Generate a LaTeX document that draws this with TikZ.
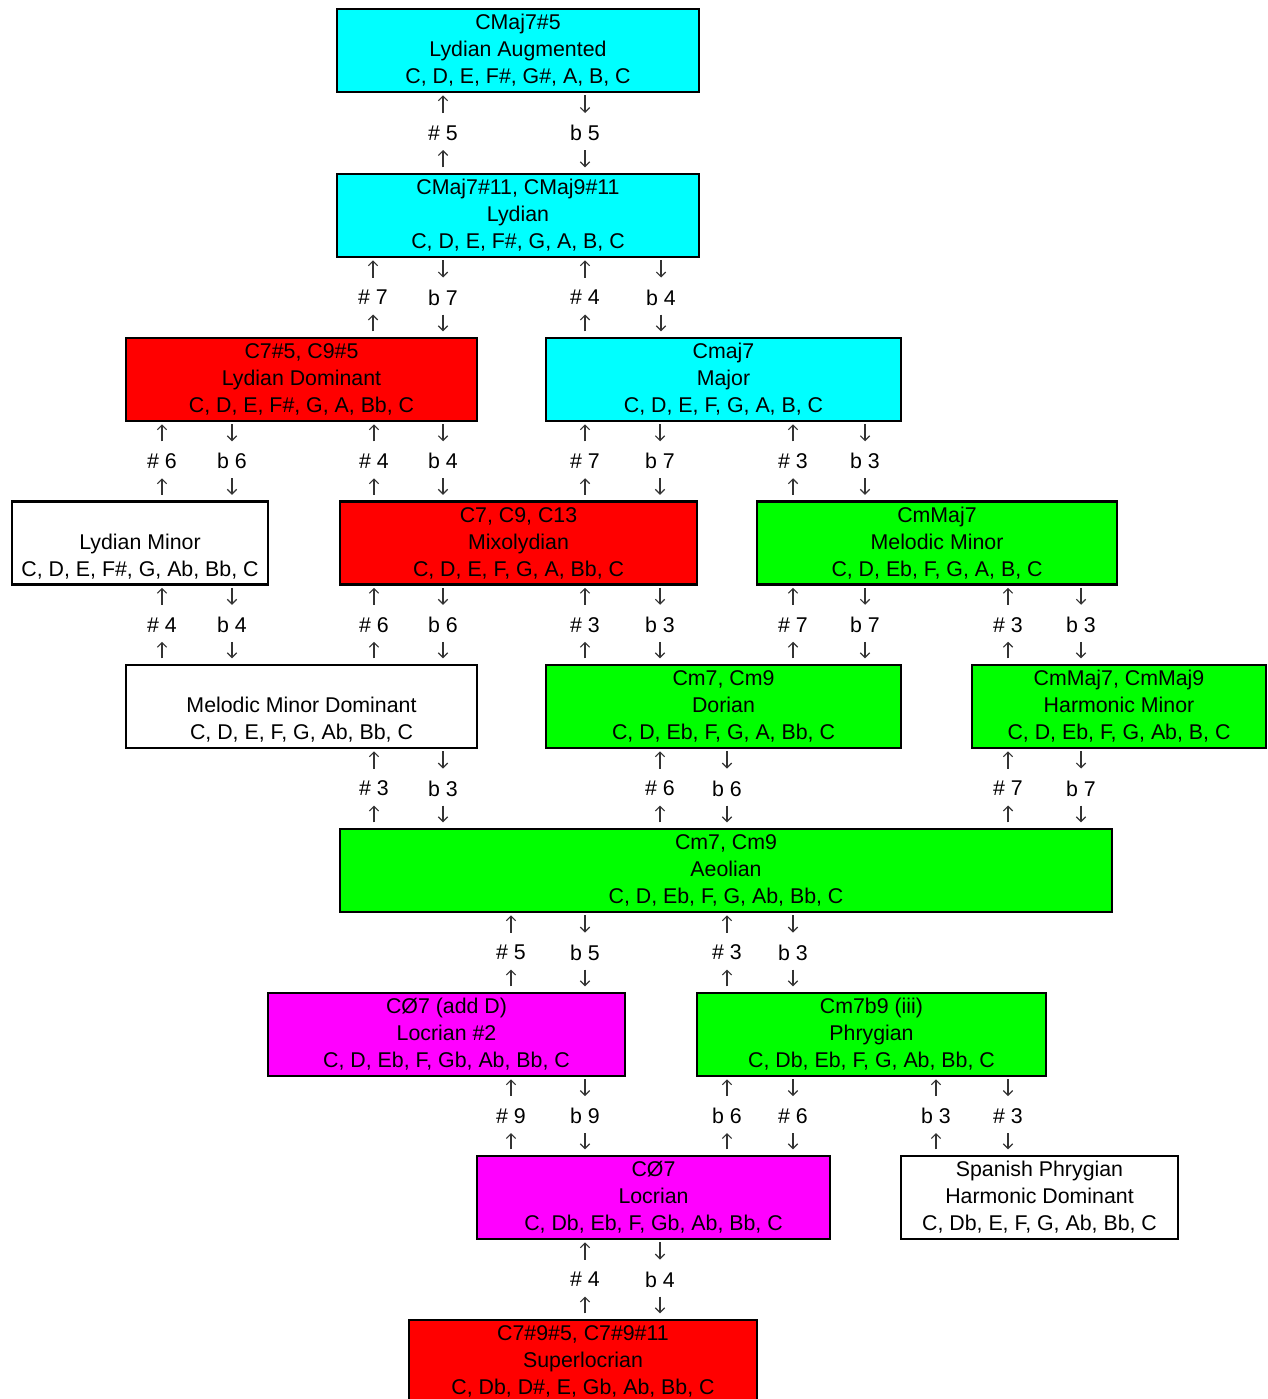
\documentclass[tikz,border=0pt]{standalone}
\usepackage{fontspec}
\setmainfont{Liberation Sans}
\usetikzlibrary{arrows.meta,calc}
\definecolor{modeCyan}{RGB}{0,255,255}
\definecolor{modeRed}{RGB}{255,0,0}
\definecolor{modeGreen}{RGB}{0,255,0}
\definecolor{modeMagenta}{RGB}{255,0,255}
\newcommand{\boxfont}{\fontsize{16pt}{20.25pt}\selectfont}
% #1 lower box, #2 upper box, #3 x, #4 label
\newcommand{\upmove}[4]{%
  \coordinate (m) at ($(#1.north)!.5!(#2.south)$);
  \node[lbl] (#1#2#3) at (m -| #3,0) {#4};
  \draw[arr,shorten <=4pt,shorten >=12.75pt] (#1#2#3 |- #1.north) -- (#1#2#3.center);
  \draw[arr,shorten <=15pt,shorten >=1.5pt] (#1#2#3.center) -- (#1#2#3 |- #2.south);
}
\newcommand{\downmove}[4]{%
  \coordinate (m) at ($(#1.north)!.5!(#2.south)$);
  \node[lbl] (#1#2#3) at (m -| #3,0) {#4};
  \draw[arr,shorten <=1.5pt,shorten >=15pt] (#1#2#3 |- #2.south) -- (#1#2#3.center);
  \draw[arr,shorten <=12.75pt,shorten >=4pt] (#1#2#3.center) -- (#1#2#3 |- #1.north);
}

\begin{document}
\begin{tikzpicture}[x=0.75pt,y=-0.75pt,
    box/.style={draw=black,line width=1.9pt,align=center,inner sep=0pt,
                minimum height=62.25pt,font=\boxfont},
    wd/.style={minimum width=#1*0.75pt},
    cyanbox/.style={fill=modeCyan},
    redbox/.style={fill=modeRed},
    greenbox/.style={fill=modeGreen},
    magbox/.style={fill=modeMagenta},
    lbl/.style={inner sep=0pt,font=\boxfont},
    arr/.style={-{Straight Barb[length=3.5pt,width=7pt]},line width=0.9pt,black!80}]
  \useasboundingbox (0,0) rectangle (1267,1399);

  \node[box,cyanbox,wd=362] (lydaug) at (518,50.5) {CMaj7\#5\\Lydian Augmented\\C, D, E, F\#, G\#, A, B, C};
  \node[box,cyanbox,wd=362] (lydian) at (518,215.5) {CMaj7\#11, CMaj9\#11\\Lydian\\C, D, E, F\#, G, A, B, C};
  \node[box,redbox,wd=351] (lyddom) at (301.5,379.5) {C7\#5, C9\#5\\Lydian Dominant\\C, D, E, F\#, G, A, Bb, C};
  \node[box,cyanbox,wd=355] (major) at (723.5,379.5) {Cmaj7\\Major\\C, D, E, F, G, A, B, C};
  \node[box,wd=256] (lydmin) at (140,543) {\rule{0pt}{11.5pt}\\Lydian Minor\\C, D, E, F\#, G, Ab, Bb, C};
  \node[box,redbox,wd=357] (mixo) at (518.5,543) {C7, C9, C13\\Mixolydian\\C, D, E, F, G, A, Bb, C};
  \node[box,greenbox,wd=360] (melmin) at (937,543) {CmMaj7\\Melodic Minor\\C, D, Eb, F, G, A, B, C};
  \node[box,wd=351] (melmindom) at (301.5,706.5) {\rule{0pt}{11.5pt}\\Melodic Minor Dominant\\C, D, E, F, G, Ab, Bb, C};
  \node[box,greenbox,wd=355] (dorian) at (723.5,706.5) {Cm7, Cm9\\Dorian\\C, D, Eb, F, G, A, Bb, C};
  \node[box,greenbox,wd=294] (harmmin) at (1119,706.5) {CmMaj7, CmMaj9\\Harmonic Minor\\C, D, Eb, F, G, Ab, B, C};
  \node[box,greenbox,wd=772] (aeolian) at (726,870.5) {Cm7, Cm9\\Aeolian\\C, D, Eb, F, G, Ab, Bb, C};
  \node[box,magbox,wd=357] (locrian2) at (446.5,1034.5) {CØ7 (add D)\\Locrian \#2\\C, D, Eb, F, Gb, Ab, Bb, C};
  \node[box,greenbox,wd=349] (phrygian) at (871.5,1034.5) {Cm7b9 (iii)\\Phrygian\\C, Db, Eb, F, G, Ab, Bb, C};
  \node[box,magbox,wd=353] (locrian) at (653.5,1197.5) {CØ7\\Locrian\\C, Db, Eb, F, Gb, Ab, Bb, C};
  \node[box,wd=277] (spanphryg) at (1039.5,1197.5) {Spanish Phrygian\\Harmonic Dominant\\C, Db, E, F, G, Ab, Bb, C};
  \node[box,redbox,wd=348] (superloc) at (583,1361.5) {C7\#9\#5, C7\#9\#11\\Superlocrian\\C, Db, D\#, E, Gb, Ab, Bb, C};

  % lydian <-> lydian augmented
  \upmove{lydian}{lydaug}{443}{\# 5}
  \downmove{lydian}{lydaug}{585}{b 5}
  % row 2 -> row 3
  \upmove{lyddom}{lydian}{373}{\# 7}
  \downmove{lyddom}{lydian}{443}{b 7}
  \upmove{major}{lydian}{585}{\# 4}
  \downmove{major}{lydian}{661}{b 4}
  % row 3 -> row 4
  \upmove{lydmin}{lyddom}{162}{\# 6}
  \downmove{lydmin}{lyddom}{232}{b 6}
  \upmove{mixo}{lyddom}{374}{\# 4}
  \downmove{mixo}{lyddom}{443}{b 4}
  \upmove{mixo}{major}{585}{\# 7}
  \downmove{mixo}{major}{660}{b 7}
  \upmove{melmin}{major}{793}{\# 3}
  \downmove{melmin}{major}{865}{b 3}
  % row 4 -> row 5
  \upmove{melmindom}{lydmin}{162}{\# 4}
  \downmove{melmindom}{lydmin}{232}{b 4}
  \upmove{melmindom}{mixo}{374}{\# 6}
  \downmove{melmindom}{mixo}{443}{b 6}
  \upmove{dorian}{mixo}{585}{\# 3}
  \downmove{dorian}{mixo}{660}{b 3}
  \upmove{dorian}{melmin}{793}{\# 7}
  \downmove{dorian}{melmin}{865}{b 7}
  \upmove{harmmin}{melmin}{1008}{\# 3}
  \downmove{harmmin}{melmin}{1081}{b 3}
  % row 5 -> aeolian
  \upmove{aeolian}{melmindom}{374}{\# 3}
  \downmove{aeolian}{melmindom}{443}{b 3}
  \upmove{aeolian}{dorian}{660}{\# 6}
  \downmove{aeolian}{dorian}{727}{b 6}
  \upmove{aeolian}{harmmin}{1008}{\# 7}
  \downmove{aeolian}{harmmin}{1081}{b 7}
  % aeolian -> row 7
  \upmove{locrian2}{aeolian}{511}{\# 5}
  \downmove{locrian2}{aeolian}{585}{b 5}
  \upmove{phrygian}{aeolian}{727}{\# 3}
  \downmove{phrygian}{aeolian}{793}{b 3}
  % row 7 -> row 8
  \upmove{locrian}{locrian2}{511}{\# 9}
  \downmove{locrian}{locrian2}{585}{b 9}
  \upmove{locrian}{phrygian}{727}{b 6}
  \downmove{locrian}{phrygian}{793}{\# 6}
  \upmove{spanphryg}{phrygian}{936}{b 3}
  \downmove{spanphryg}{phrygian}{1008}{\# 3}
  % locrian -> superlocrian
  \upmove{superloc}{locrian}{585}{\# 4}
  \downmove{superloc}{locrian}{660}{b 4}
\end{tikzpicture}
\end{document}
